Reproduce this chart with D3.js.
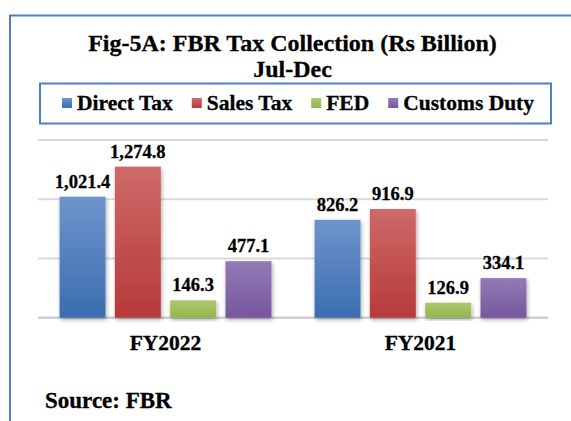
<!DOCTYPE html>
<html>
<head>
<meta charset="utf-8">
<script src="https://cdn.jsdelivr.net/npm/d3@7"></script>
<style>
  html, body { margin: 0; padding: 0; background: #fff; }
  svg { display: block; }
  text { font-family: "Liberation Serif", "Times New Roman", serif; font-weight: bold; fill: #000; stroke: #000; stroke-width: 0.3px; }
</style>
</head>
<body>
<svg id="chart" width="571" height="421"></svg>
<script>
const years = ["FY2022", "FY2021"];
const seriesNames = ["Direct Tax", "Sales Tax", "FED", "Customs Duty"];
const directTax = [1021.4, 826.2];
const salesTax = [1274.8, 916.9];
const fed = [146.3, 126.9];
const customsDuty = [477.1, 334.1];
const gridTicks = [0, 500, 1000, 1500];

const seriesValues = [directTax, salesTax, fed, customsDuty];
const colors = [
  { top: "#6e94cb", bottom: "#3b6db0" },
  { top: "#cd6a68", bottom: "#b8393a" },
  { top: "#adc96c", bottom: "#93b54e" },
  { top: "#927bb5", bottom: "#77569f" }
];

const svg = d3.select("#chart");
const frameBlue = "#4f81bd";

// outer frame, runs off the right and bottom edges
svg.append("rect")
  .attr("x", 10).attr("y", 15.5)
  .attr("width", 600).attr("height", 500)
  .attr("fill", "none").attr("stroke", frameBlue).attr("stroke-width", 2);

const defs = svg.append("defs");
colors.forEach((c, i) => {
  const g = defs.append("linearGradient").attr("id", `grad${i}`)
    .attr("x1", 0).attr("y1", 0).attr("x2", 0).attr("y2", 1);
  g.append("stop").attr("offset", "0%").attr("stop-color", c.top);
  g.append("stop").attr("offset", "100%").attr("stop-color", c.bottom);
});
const shadow = defs.append("filter").attr("id", "shadow")
  .attr("x", "-30%").attr("y", "-10%").attr("width", "160%").attr("height", "130%");
shadow.append("feDropShadow")
  .attr("dx", 1).attr("dy", 2).attr("stdDeviation", 2)
  .attr("flood-color", "#000").attr("flood-opacity", 0.35);

// title
const cx = 292.5;
svg.append("text").attr("x", cx).attr("y", 51).attr("text-anchor", "middle")
  .attr("font-size", 24).text("Fig-5A: FBR Tax Collection (Rs Billion)");
svg.append("text").attr("x", cx).attr("y", 77).attr("text-anchor", "middle")
  .attr("font-size", 24).text("Jul-Dec");

// legend
svg.append("rect")
  .attr("x", 40).attr("y", 83.5).attr("width", 511).attr("height", 40)
  .attr("fill", "#fff").attr("stroke", frameBlue).attr("stroke-width", 2);
let lx = 62;
seriesNames.forEach((name, i) => {
  svg.append("rect").attr("x", lx).attr("y", 98).attr("width", 10).attr("height", 10)
    .attr("fill", `url(#grad${i})`);
  const t = svg.append("text").attr("x", lx + 15).attr("y", 110)
    .attr("font-size", 21.5).text(name);
  lx += 15 + t.node().getComputedTextLength() + 19;
});

// plot
const plot = { left: 38, right: 548, top: 140, bottom: 317.7 };
const y = d3.scaleLinear().domain([0, 1500]).range([plot.bottom, plot.top]);
const x0 = d3.scaleBand().domain(years).range([plot.left, plot.right]).paddingInner(0).paddingOuter(0);
const x1 = d3.scaleBand().domain(seriesNames).range([0, x0.bandwidth()])
  .paddingInner(0.17).paddingOuter(0.39);

svg.append("g").selectAll("line").data(gridTicks).join("line")
  .attr("x1", plot.left).attr("x2", plot.right)
  .attr("y1", d => y(d)).attr("y2", d => y(d))
  .attr("stroke", d => d === 0 ? "#cfcfcf" : "#dadada")
  .attr("stroke-width", d => d === 0 ? 2.5 : 2);

const cells = years.flatMap((yr, gi) =>
  seriesNames.map((s, si) => ({ yr, s, si, v: seriesValues[si][gi] })));

svg.append("g").selectAll("rect").data(cells).join("rect")
  .attr("x", d => x0(d.yr) + x1(d.s))
  .attr("y", d => y(d.v))
  .attr("width", x1.bandwidth())
  .attr("height", d => y(0) - y(d.v))
  .attr("fill", d => `url(#grad${d.si})`)
  .attr("filter", "url(#shadow)");

svg.append("g").selectAll("text").data(cells).join("text")
  .attr("x", d => x0(d.yr) + x1(d.s) + x1.bandwidth() / 2)
  .attr("y", d => y(d.v) - 9)
  .attr("text-anchor", "middle")
  .attr("font-size", 18.5)
  .text(d => d3.format(",.1f")(d.v));

svg.append("g").selectAll("text").data(years).join("text")
  .attr("x", d => x0(d) + x0.bandwidth() / 2)
  .attr("y", 350)
  .attr("text-anchor", "middle")
  .attr("font-size", 21.5)
  .text(d => d);

svg.append("text").attr("x", 45).attr("y", 408).attr("font-size", 23).text("Source: FBR");
</script>
</body>
</html>
